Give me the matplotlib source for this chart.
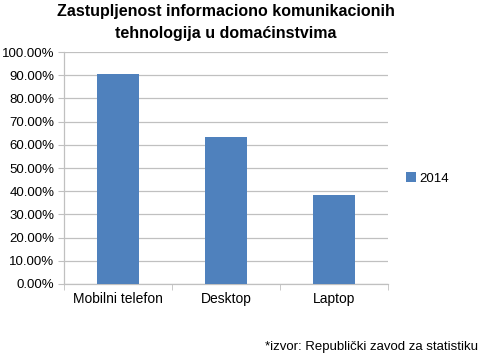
import matplotlib
matplotlib.use("Agg")
import matplotlib.pyplot as plt
from matplotlib.ticker import FuncFormatter, FixedLocator

plt.rcParams['font.family'] = ['Liberation Sans', 'DejaVu Sans']

categories = ["Mobilni telefon", "Desktop", "Laptop"]
values_2014 = [90.4, 63.2, 38.4]
series_label = "2014"
title = "Zastupljenost informaciono komunikacionih\ntehnologija u domaćinstvima"
source = "*izvor: Republički zavod za statistiku"

bar_color = "#4f81bd"
grid_color = "#c0c0c0"

fig = plt.figure(figsize=(4.8, 3.55), dpi=100)
ax = fig.add_axes([64 / 480, 1 - 284 / 355, 324 / 480, 232 / 355])

x = range(len(categories))
bars = ax.bar(x, values_2014, width=0.39, color=bar_color, label=series_label, zorder=3)

ax.set_ylim(0, 100)
ax.set_xlim(-0.5, len(categories) - 0.5)
ax.set_yticks(range(0, 101, 10))
ax.yaxis.set_major_formatter(FuncFormatter(lambda v, p: "%.2f%%" % v))
ax.set_xticks(list(x))
ax.set_xticklabels(categories)
ax.xaxis.set_minor_locator(FixedLocator([-0.5, 0.5, 1.5, 2.5]))

ax.grid(axis="y", color=grid_color, linewidth=0.9, zorder=0)
for s in ["top", "right"]:
    ax.spines[s].set_visible(False)
for s in ["left", "bottom"]:
    ax.spines[s].set_color(grid_color)
    ax.spines[s].set_linewidth(0.9)

ax.tick_params(axis="y", length=4, color=grid_color, labelsize=9.5, pad=3)
ax.tick_params(axis="x", which="major", length=0, labelsize=10, pad=6)
ax.tick_params(axis="x", which="minor", length=4, color=grid_color)

fig.text(226 / 480, 1 - 22.5 / 355, title, ha="center", va="center", fontsize=11.5,
         fontweight="bold", linespacing=1.6)

ax.legend(loc="center left", bbox_to_anchor=(1.02, 0.455), frameon=False,
          fontsize=9.5, handlelength=0.7, handleheight=0.7, handletextpad=0.3)

fig.text(0.995, 0.022, source, ha="right", va="center", fontsize=9.5)

fig.savefig("out.png", dpi=100)
